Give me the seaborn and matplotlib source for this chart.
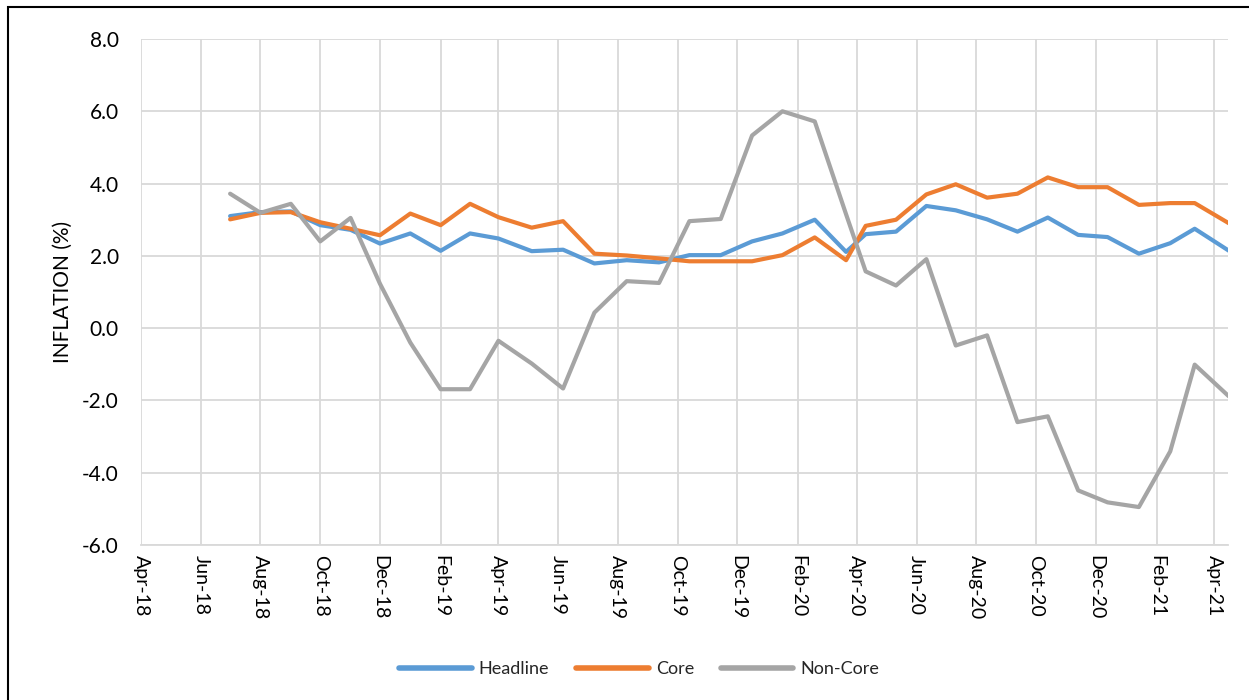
import matplotlib
matplotlib.use("Agg")
import matplotlib.pyplot as plt
import matplotlib.dates as mdates
from matplotlib.patches import Rectangle
import seaborn as sns
import pandas as pd
import numpy as np

# ---- data ----
dates = ["2018-07-01", "2018-08-01", "2018-09-01", "2018-10-01", "2018-11-01",
         "2018-12-01", "2019-01-01", "2019-02-01", "2019-03-03", "2019-04-01",
         "2019-05-05", "2019-06-06", "2019-07-08", "2019-08-10", "2019-09-12",
         "2019-10-13", "2019-11-14", "2019-12-16", "2020-01-16", "2020-02-18",
         "2020-03-21", "2020-04-10", "2020-05-11", "2020-06-11", "2020-07-11",
         "2020-08-12", "2020-09-12", "2020-10-13", "2020-11-13", "2020-12-13",
         "2021-01-14", "2021-02-15", "2021-03-12", "2021-04-16"]
headline = [3.10, 3.21, 3.23, 2.85, 2.72, 2.34, 2.62, 2.14, 2.62, 2.48,
            2.13, 2.17, 1.79, 1.88, 1.82, 2.02, 2.02, 2.40, 2.62, 3.00,
            2.11, 2.60, 2.67, 3.38, 3.26, 3.01, 2.67, 3.06, 2.58, 2.52,
            2.06, 2.35, 2.75, 2.14]
core = [3.01, 3.19, 3.21, 2.93, 2.75, 2.57, 3.17, 2.85, 3.44, 3.07,
        2.78, 2.96, 2.06, 2.01, 1.93, 1.85, 1.85, 1.85, 2.02, 2.51,
        1.88, 2.83, 3.00, 3.70, 3.98, 3.61, 3.72, 4.17, 3.90, 3.90,
        3.41, 3.46, 3.46, 2.90]
noncore = [3.72, 3.19, 3.44, 2.40, 3.05, 1.23, -0.40, -1.69, -1.69, -0.35,
           -0.98, -1.67, 0.43, 1.30, 1.25, 2.96, 3.02, 5.33, 6.00, 5.72,
           3.15, 1.57, 1.18, 1.91, -0.48, -0.20, -2.60, -2.44, -4.49, -4.82,
           -4.95, -3.41, -1.01, -1.89]
series_names = ["Headline", "Core", "Non-Core"]
series_colors = ["#5B9BD5", "#ED7D31", "#A5A5A5"]
y_ticks = [-6, -4, -2, 0, 2, 4, 6, 8]
y_label = "INFLATION (%)"

df = pd.DataFrame({
    "date": pd.to_datetime(dates * 3),
    "value": headline + core + noncore,
    "series": [series_names[0]] * len(dates) + [series_names[1]] * len(dates)
              + [series_names[2]] * len(dates),
})

sns.set_style("white")
plt.rcParams["font.family"] = ["Lato", "DejaVu Sans"]

fig = plt.figure(figsize=(12.49, 7.0), dpi=100)
ax = fig.add_axes([141 / 1249, 1 - 545 / 700, (1228 - 141) / 1249, (545 - 39) / 700])

sns.lineplot(data=df, x="date", y="value", hue="series", hue_order=series_names,
             palette=dict(zip(series_names, series_colors)), linewidth=3.0,
             ax=ax, legend=True)
for ln in ax.lines:
    ln.set_solid_joinstyle("round")
    ln.set_solid_capstyle("round")

ax.set_xlim(pd.Timestamp("2018-04-01"), pd.Timestamp("2021-04-15"))
ax.set_ylim(-6, 8)
ax.set_yticks(y_ticks)
ax.set_yticklabels([f"{v:.1f}" for v in y_ticks])
ax.xaxis.set_major_locator(mdates.MonthLocator(bymonth=[2, 4, 6, 8, 10, 12]))
ax.xaxis.set_major_formatter(mdates.DateFormatter("%b-%y"))
for lbl in ax.get_xticklabels():
    lbl.set_rotation(-90)
    lbl.set_va("top")
    lbl.set_ha("center")

ax.grid(True, color="#d9d9d9", linewidth=1.3)
ax.set_axisbelow(True)
for s in ["left", "right", "top"]:
    ax.spines[s].set_visible(False)
ax.spines["bottom"].set_color("#d9d9d9")
ax.spines["bottom"].set_linewidth(1.3)
ax.tick_params(axis="both", length=0, colors="#000000")
ax.tick_params(axis="x", pad=7, labelsize=14)
ax.tick_params(axis="y", pad=16, labelsize=15)

ax.set_xlabel("")
ax.set_ylabel(y_label, fontsize=15, color="#000000")
ax.yaxis.set_label_coords(-0.063, 0.5)

handles, labels = ax.get_legend_handles_labels()
ax.get_legend().remove()
for h in handles:
    h.set_linewidth(4)
fig.legend(handles, labels, loc="center", bbox_to_anchor=(0.512, 0.044), ncol=3,
           frameon=False, fontsize=13, handlelength=4.0, handletextpad=0.4,
           columnspacing=1.5)

fig.patches.append(Rectangle((8 / 1249, -0.1), 1.2, 1 - 7 / 700 + 0.1,
                             transform=fig.transFigure, fill=False,
                             edgecolor="black", linewidth=1.5))

fig.savefig("out.png", dpi=100)
